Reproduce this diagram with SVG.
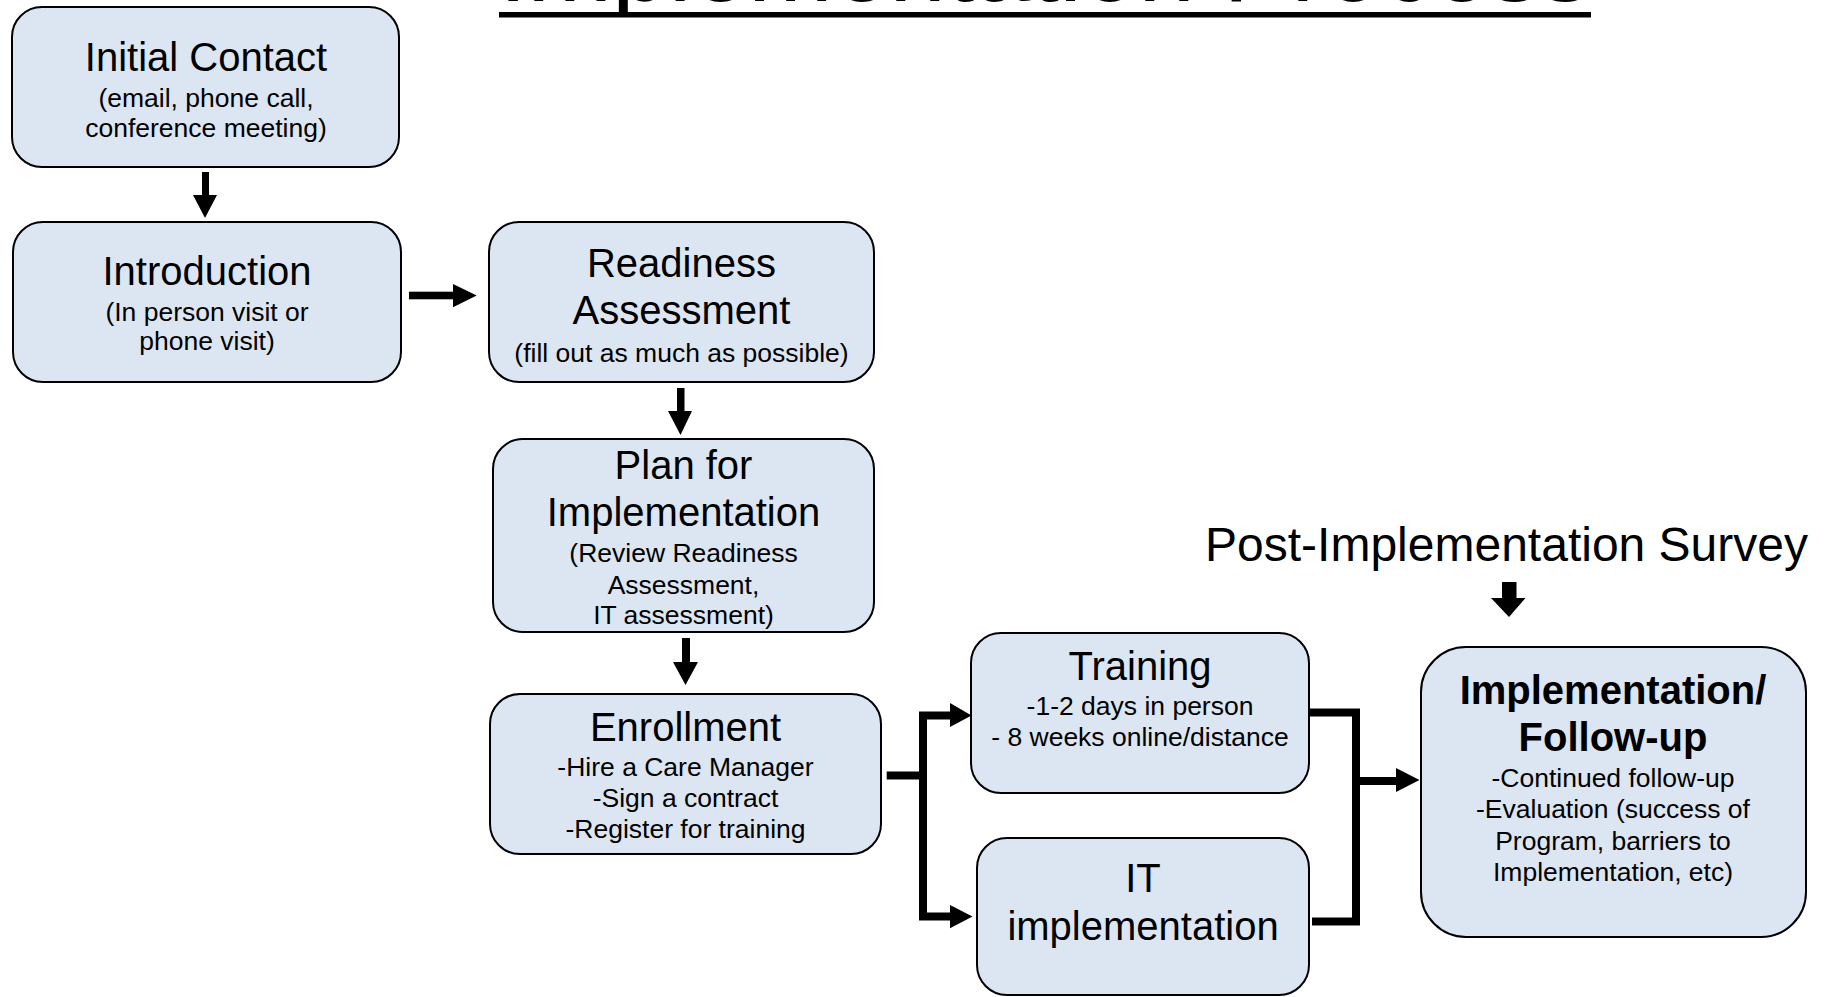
<svg xmlns="http://www.w3.org/2000/svg" width="1830" height="997" viewBox="0 0 1830 997">
<defs>
<style>
.box{fill:#dce6f2;stroke:#000;stroke-width:2}
.t{font-family:"Liberation Sans",Arial,sans-serif;fill:#000;text-anchor:middle}
.h{font-size:40px}
.s{font-size:26.5px}
.b{font-size:40px;font-weight:bold}
.ln{fill:none;stroke:#000;stroke-width:8;stroke-linejoin:miter}
.ah{fill:#000}
</style>
<clipPath id="topclip"><rect x="0" y="0" width="1830" height="12"/></clipPath>
</defs>
<rect width="1830" height="997" fill="#fff"/>
<g id="title">
<text x="499" y="1" clip-path="url(#topclip)" font-family="Liberation Sans, Arial, sans-serif" font-size="102" textLength="1092" lengthAdjust="spacingAndGlyphs">Implementation Process</text>
<rect x="499" y="12" width="1092" height="5.5" fill="#000"/>
</g>
<g id="connectors">
<rect x="202" y="172" width="7" height="24" class="ah"/>
<polygon points="193,195 217,195 205,218" class="ah"/>
<rect x="409" y="291.7" width="45" height="7.6" class="ah"/>
<polygon points="453,284 453,307.3 476.7,295.5" class="ah"/>
<rect x="677" y="388" width="7.5" height="24" class="ah"/>
<polygon points="668,411 692,411 680.5,435" class="ah"/>
<rect x="682" y="638" width="8" height="25" class="ah"/>
<polygon points="673,662 698,662 685.5,685" class="ah"/>
<path class="ln" d="M886.7,775.5 H923"/>
<path class="ln" d="M951,715.5 H923 V916.5 H951"/>
<polygon points="950,703 950,727 971.5,715.5" class="ah"/>
<polygon points="950,905 950,928.3 972.5,916.5" class="ah"/>
<path class="ln" d="M1310,712.5 H1356 V921.5 H1312"/>
<path class="ln" d="M1356,781 H1397"/>
<polygon points="1396,768 1396,792 1419.5,780" class="ah"/>
<rect x="1502" y="582" width="14.5" height="17" class="ah"/>
<polygon points="1491,598 1525.5,598 1509,617" class="ah"/>
</g>
<g id="initial-contact">
<rect class="box" x="12" y="7" width="387" height="160" rx="30"/>
<text class="t h" x="206" y="71">Initial Contact</text>
<text class="t s" x="206" y="107">(email, phone call,</text>
<text class="t s" x="206" y="137">conference meeting)</text>
</g>
<g id="introduction">
<rect class="box" x="13" y="222" width="388" height="160" rx="30"/>
<text class="t h" x="207" y="285">Introduction</text>
<text class="t s" x="207" y="320.5">(In person visit or</text>
<text class="t s" x="207" y="350">phone visit)</text>
</g>
<g id="readiness">
<rect class="box" x="489" y="222" width="385" height="160" rx="30"/>
<text class="t h" x="681.5" y="277">Readiness</text>
<text class="t h" x="681.5" y="323.5">Assessment</text>
<text class="t s" x="681.5" y="362">(fill out as much as possible)</text>
</g>
<g id="plan">
<rect class="box" x="493" y="439" width="381" height="193" rx="30"/>
<text class="t h" x="683.5" y="479">Plan for</text>
<text class="t h" x="683.5" y="526">Implementation</text>
<text class="t s" x="683.5" y="562">(Review Readiness</text>
<text class="t s" x="683.5" y="593.5">Assessment,</text>
<text class="t s" x="683.5" y="624">IT assessment)</text>
</g>
<g id="enrollment">
<rect class="box" x="490" y="694" width="391" height="160" rx="30"/>
<text class="t h" x="685.5" y="741">Enrollment</text>
<text class="t s" x="685.5" y="775.5">-Hire a Care Manager</text>
<text class="t s" x="685.5" y="807">-Sign a contract</text>
<text class="t s" x="685.5" y="838">-Register for training</text>
</g>
<g id="training">
<rect class="box" x="971" y="633" width="338" height="160" rx="30"/>
<text class="t h" x="1140" y="680">Training</text>
<text class="t s" x="1140" y="715">-1-2 days in person</text>
<text class="t s" x="1140" y="746">- 8 weeks online/distance</text>
</g>
<g id="it-implementation">
<rect class="box" x="977" y="838" width="332" height="157" rx="30"/>
<text class="t h" x="1143" y="892">IT</text>
<text class="t h" x="1143" y="940">implementation</text>
</g>
<g id="post-survey">
<text class="t" x="1808" y="561" font-size="48" text-anchor="end" style="text-anchor:end">Post-Implementation Survey</text>
</g>
<g id="implementation-follow-up">
<rect class="box" x="1421" y="647" width="385" height="290" rx="45"/>
<text class="t b" x="1613" y="704">Implementation/</text>
<text class="t b" x="1613" y="751">Follow-up</text>
<text class="t s" x="1613" y="786.5">-Continued follow-up</text>
<text class="t s" x="1613" y="818">-Evaluation (success of</text>
<text class="t s" x="1613" y="849.5">Program, barriers to</text>
<text class="t s" x="1613" y="880.5">Implementation, etc)</text>
</g>
</svg>
